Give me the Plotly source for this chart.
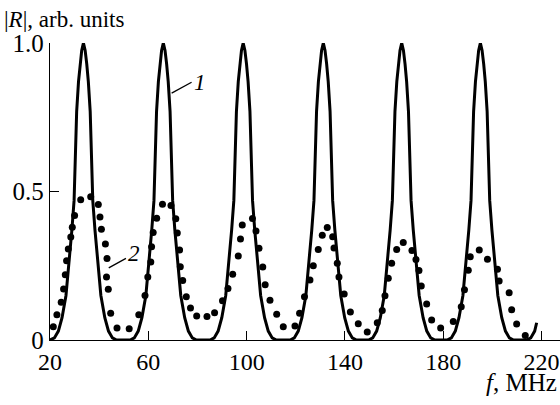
import plotly.graph_objects as go

# Curve 1 (solid line): frequency, MHz and |R|
curve1_f = [
    20.0, 21.8, 23.4, 24.9, 26.5, 27.8, 28.9, 29.8, 30.2, 30.85, 31.6, 32.25, 32.9, 33.6,
    34.3, 34.95, 35.6, 36.35, 37.0, 37.4, 38.3, 39.4, 40.7, 42.3, 43.8, 45.4, 47.1,
    52.6, 54.3, 55.9, 57.4, 59.0, 60.3, 61.4, 62.3, 62.7, 63.35, 64.1, 64.75, 65.4, 66.1,
    66.8, 67.45, 68.1, 68.85, 69.5, 69.9, 70.8, 71.9, 73.2, 74.8, 76.3, 77.9, 79.6,
    85.1, 86.8, 88.4, 89.9, 91.5, 92.8, 93.9, 94.8, 95.2, 95.85, 96.6, 97.25, 97.9, 98.6,
    99.3, 99.95, 100.6, 101.35, 102.0, 102.4, 103.3, 104.4, 105.7, 107.3, 108.8, 110.4, 112.1,
    117.7, 119.4, 121.0, 122.5, 124.1, 125.4, 126.5, 127.4, 127.8, 128.45, 129.2, 129.85, 130.5, 131.2,
    131.9, 132.55, 133.2, 133.95, 134.6, 135.0, 135.9, 137.0, 138.3, 139.9, 141.4, 143.0, 144.7,
    149.6, 151.3, 152.9, 154.4, 156.0, 157.3, 158.4, 159.3, 159.7, 160.35, 161.1, 161.75, 162.4, 163.1,
    163.8, 164.45, 165.1, 165.85, 166.5, 166.9, 167.8, 168.9, 170.2, 171.8, 173.3, 174.9, 176.6,
    181.6, 183.3, 184.9, 186.4, 188.0, 189.3, 190.4, 191.3, 191.7, 192.35, 193.1, 193.75, 194.4, 195.1,
    195.8, 196.45, 197.1, 197.85, 198.5, 198.9, 199.8, 200.9, 202.2, 203.8, 205.3, 206.9, 208.6,
    213.9, 215.6, 217.2, 218.0,
]
curve1_R = [
    0, 0.007, 0.03, 0.075, 0.15, 0.26, 0.37, 0.47, 0.62, 0.77, 0.87, 0.93, 0.975, 1.0,
    0.975, 0.93, 0.87, 0.77, 0.62, 0.47, 0.37, 0.26, 0.15, 0.075, 0.03, 0.007, 0,
    0, 0.007, 0.03, 0.075, 0.15, 0.26, 0.37, 0.47, 0.62, 0.77, 0.87, 0.93, 0.975, 1.0,
    0.975, 0.93, 0.87, 0.77, 0.62, 0.47, 0.37, 0.26, 0.15, 0.075, 0.03, 0.007, 0,
    0, 0.007, 0.03, 0.075, 0.15, 0.26, 0.37, 0.47, 0.62, 0.77, 0.87, 0.93, 0.975, 1.0,
    0.975, 0.93, 0.87, 0.77, 0.62, 0.47, 0.37, 0.26, 0.15, 0.075, 0.03, 0.007, 0,
    0, 0.007, 0.03, 0.075, 0.15, 0.26, 0.37, 0.47, 0.62, 0.77, 0.87, 0.93, 0.975, 1.0,
    0.975, 0.93, 0.87, 0.77, 0.62, 0.47, 0.37, 0.26, 0.15, 0.075, 0.03, 0.007, 0,
    0, 0.007, 0.03, 0.075, 0.15, 0.26, 0.37, 0.47, 0.62, 0.77, 0.87, 0.93, 0.975, 1.0,
    0.975, 0.93, 0.87, 0.77, 0.62, 0.47, 0.37, 0.26, 0.15, 0.075, 0.03, 0.007, 0,
    0, 0.007, 0.03, 0.075, 0.15, 0.26, 0.37, 0.47, 0.62, 0.77, 0.87, 0.93, 0.975, 1.0,
    0.975, 0.93, 0.87, 0.77, 0.62, 0.47, 0.37, 0.26, 0.15, 0.075, 0.03, 0.007, 0,
    0, 0.007, 0.03, 0.058,
]

# Curve 2 (dots): frequency, MHz and |R|
curve2_f = [
    21.34, 22.81, 24.56, 25.53, 26.22, 26.75, 27.44, 28.46, 29.07, 30.01,
    32.49, 36.56, 39.65, 40.34, 40.91, 42.54, 43.19, 42.99, 43.72, 44.69,
    47.26, 52.22, 56.13, 58.65, 59.79, 61.01, 61.33, 61.98, 63.41, 65.77,
    69.22, 71.18, 71.79, 72.72, 73.01, 73.99, 75.45, 77.16, 79.68, 83.87,
    86.96, 90.18, 92.41, 94.33, 96.60, 97.50, 98.23, 102.38, 103.81, 105.03,
    106.57, 107.55, 109.50, 112.23, 114.91, 119.67, 121.54, 123.54, 125.77, 127.12,
    129.15, 130.78, 132.81, 135.01, 135.54, 136.88, 137.57, 139.69, 142.21, 145.42,
    149.08, 153.15, 155.19, 156.29, 157.63, 159.01, 161.05, 163.73, 167.27, 168.90,
    170.12, 171.05, 173.25, 175.28, 178.94, 184.07, 187.32, 188.63, 190.18, 190.99,
    194.65, 197.99, 202.05, 202.74, 206.81, 207.83, 209.86, 213.36,
]
curve2_R = [
    0.045, 0.085, 0.127, 0.172, 0.220, 0.267, 0.306, 0.347, 0.380, 0.419,
    0.472, 0.482, 0.456, 0.414, 0.373, 0.323, 0.274, 0.212, 0.171, 0.090,
    0.040, 0.038, 0.085, 0.150, 0.212, 0.263, 0.314, 0.362, 0.410, 0.457,
    0.453, 0.408, 0.360, 0.303, 0.247, 0.200, 0.146, 0.108, 0.081, 0.079,
    0.092, 0.132, 0.173, 0.221, 0.283, 0.340, 0.387, 0.409, 0.367, 0.309,
    0.246, 0.186, 0.134, 0.087, 0.045, 0.047, 0.090, 0.146, 0.202, 0.250,
    0.305, 0.353, 0.379, 0.348, 0.310, 0.258, 0.212, 0.155, 0.094, 0.055,
    0.027, 0.058, 0.099, 0.149, 0.208, 0.258, 0.305, 0.328, 0.301, 0.271,
    0.234, 0.182, 0.121, 0.067, 0.040, 0.062, 0.112, 0.169, 0.235, 0.280,
    0.303, 0.272, 0.238, 0.199, 0.159, 0.102, 0.054, 0.015,
]

x_ticks = [20, 60, 100, 140, 180, 220]
y_ticks = [0, 0.5, 1.0]
y_tick_text = ["0", "0.5", "1.0"]

FONT = "Liberation Serif"

fig = go.Figure()
fig.add_trace(go.Scatter(
    x=curve1_f, y=curve1_R, mode="lines",
    line=dict(color="black", width=3), showlegend=False,
))
fig.add_trace(go.Scatter(
    x=curve2_f, y=curve2_R, mode="markers",
    marker=dict(color="black", size=7), showlegend=False, cliponaxis=False,
))

# leader lines for curve labels
fig.add_shape(type="line", xref="x", yref="y", x0=69.5, y0=0.831, x1=77.6, y1=0.868,
              line=dict(color="black", width=1.3))
fig.add_shape(type="line", xref="x", yref="y", x0=43.9, y0=0.243, x1=50.9, y1=0.275,
              line=dict(color="black", width=1.3))

fig.add_annotation(x=77.6, y=0.868, xref="x", yref="y", text="<i>1</i>", showarrow=False,
                   xanchor="left", yanchor="middle", font=dict(family=FONT, size=23, color="black"))
fig.add_annotation(x=51.0, y=0.29, xref="x", yref="y", text="<i>2</i>", showarrow=False,
                   xanchor="left", yanchor="middle", font=dict(family=FONT, size=23, color="black"))

# axis titles
fig.add_annotation(x=-0.094, y=1.08, xref="paper", yref="paper", text="|<i>R</i>|, arb. units",
                   showarrow=False, xanchor="left", yanchor="middle",
                   font=dict(family=FONT, size=23, color="black"))
fig.add_annotation(x=0.998, y=-0.142, xref="paper", yref="paper", text="<i>f</i>, MHz",
                   showarrow=False, xanchor="right", yanchor="middle",
                   font=dict(family=FONT, size=25, color="black"))

fig.update_xaxes(
    range=[20, 227.5], tickvals=x_ticks, ticks="inside", ticklen=9, tickwidth=1.2,
    tickcolor="black", showline=True, linecolor="black", linewidth=1.3,
    showgrid=False, zeroline=False, ticklabeloverflow="allow",
    tickfont=dict(family=FONT, size=24, color="black"),
)
fig.update_yaxes(
    range=[0, 1.0], tickvals=y_ticks, ticktext=y_tick_text, ticks="inside", ticklen=9,
    tickwidth=1.2, tickcolor="black", showline=True, linecolor="black", linewidth=1.3,
    showgrid=False, zeroline=False, ticklabeloverflow="allow",
    tickfont=dict(family=FONT, size=25, color="black"),
)
fig.update_layout(
    width=560, height=405,
    margin=dict(l=50, r=0, t=43, b=65),
    plot_bgcolor="white", paper_bgcolor="white",
    font=dict(family=FONT, color="black"),
)

fig.write_html("out.html", config={"displayModeBar": False},
               post_script="document.body.style.margin='0';")
